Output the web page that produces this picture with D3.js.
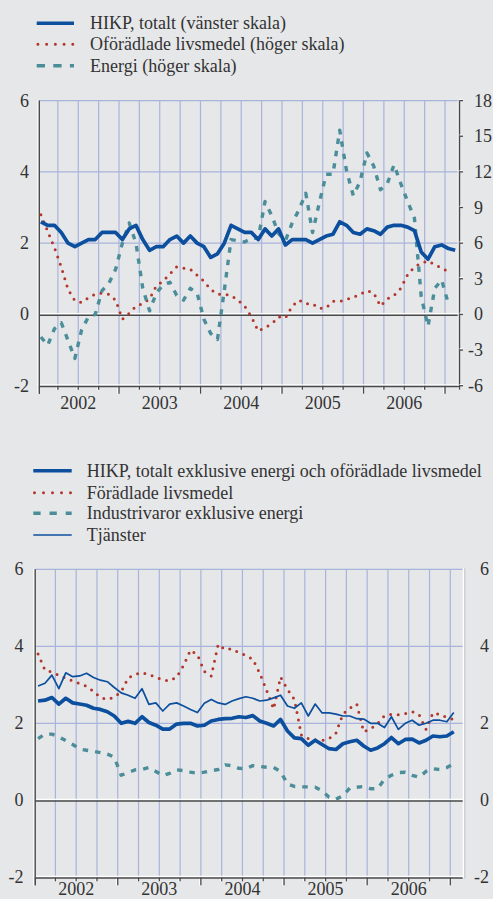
<!DOCTYPE html>
<html><head><meta charset="utf-8">
<script src="https://cdn.jsdelivr.net/npm/d3@7"></script>
<style>
html,body{margin:0;padding:0;background:#e6e7e9;}
svg{display:block;}
</style></head><body>
<svg id="c" width="493" height="899" font-family="'Liberation Serif', 'Times New Roman', Tinos, 'DejaVu Serif', serif" font-size="18" fill="#333"></svg>
<script>
// ---------- data (monthly, starting January 2002) ----------
const years = ["2002","2003","2004","2005","2006"];

// Top chart
const hikpTotal = [
  2.6,2.5,2.5,2.3,2.0,1.9,2.0,2.1,2.1,2.3,2.3,2.3,
  2.1,2.4,2.5,2.1,1.8,1.9,1.9,2.1,2.2,2.0,2.2,2.0,
  1.9,1.6,1.7,2.0,2.5,2.4,2.3,2.3,2.1,2.4,2.2,2.4,
  1.95,2.1,2.1,2.1,2.0,2.1,2.2,2.25,2.6,2.5,2.3,2.25,
  2.4,2.35,2.25,2.45,2.5,2.5,2.45,2.35,1.75,1.55,1.9,1.95,
  1.85,1.8];
const unprocessedFood = [
  8.4,7.0,5.6,4.0,2.1,1.15,1.0,1.4,1.7,1.8,1.7,1.2,
  -0.4,0.1,0.7,0.9,1.3,2.4,2.8,3.4,4.0,3.9,3.8,3.3,
  2.8,2.1,1.7,1.7,1.6,1.2,0.7,-0.2,-1.4,-1.1,-0.8,-0.2,
  -0.3,0.7,1.2,0.9,0.9,0.5,0.55,1.1,1.1,1.25,1.45,1.7,
  2.0,1.8,0.7,1.3,1.6,2.2,3.35,4.0,4.3,4.5,4.2,3.9,
  3.6];
const energy = [
  -1.9,-2.6,-1.2,-0.7,-2.2,-3.7,-1.3,-0.2,0.0,2.0,2.6,3.8,
  6.0,7.7,6.0,2.2,0.3,1.8,2.5,2.7,1.6,1.2,2.2,1.8,
  -0.4,-1.6,-2.1,2.0,6.3,6.2,6.1,6.4,6.4,9.5,8.3,6.8,
  6.2,7.7,8.8,10.2,6.9,9.4,11.8,11.8,15.5,12.1,10.0,11.2,
  13.6,12.5,10.5,11.0,12.6,11.0,9.5,8.1,1.5,-1.0,2.2,2.9,
  0.9];

// Bottom chart
const coreHikp = [
  2.58,2.6,2.67,2.5,2.65,2.53,2.5,2.47,2.39,2.36,2.3,2.19,
  2.0,2.05,2.0,2.17,2.02,1.95,1.85,1.85,1.98,2.0,2.0,1.93,
  1.95,2.06,2.1,2.12,2.13,2.17,2.15,2.2,2.06,2.0,1.93,2.1,
  1.8,1.62,1.6,1.43,1.56,1.45,1.34,1.32,1.47,1.52,1.56,1.41,
  1.3,1.36,1.47,1.63,1.47,1.58,1.59,1.49,1.56,1.67,1.65,1.67,
  1.78];
const processedFood = [
  3.8,3.38,3.33,3.25,3.17,3.1,3.03,2.96,2.83,2.67,2.62,2.68,
  2.82,3.18,3.27,3.32,3.26,3.2,3.13,3.1,3.2,3.5,3.9,3.78,
  3.35,3.23,4.05,3.92,3.93,3.83,3.77,3.66,3.3,2.85,2.37,3.2,
  2.88,2.62,1.7,1.6,1.57,1.55,1.6,1.75,2.24,2.39,2.5,1.78,
  1.86,1.99,2.2,2.23,2.22,2.25,2.3,2.22,1.84,2.27,2.23,2.15,
  2.1];
const industrialGoods = [
  1.6,1.72,1.72,1.65,1.55,1.45,1.33,1.3,1.27,1.24,1.2,1.12,
  0.65,0.72,0.79,0.8,0.85,0.75,0.64,0.7,0.79,0.77,0.73,0.7,
  0.73,0.77,0.8,0.92,0.9,0.83,0.82,0.9,0.88,0.86,0.85,0.75,
  0.42,0.36,0.35,0.35,0.34,0.25,0.08,0.03,0.12,0.32,0.34,0.36,
  0.3,0.3,0.55,0.65,0.72,0.73,0.65,0.6,0.75,0.82,0.8,0.85,
  0.95];
const services = [
  2.97,3.04,3.25,2.9,3.31,3.21,3.23,3.3,3.19,3.12,3.08,2.93,
  2.79,2.73,2.65,2.9,2.49,2.53,2.32,2.5,2.53,2.45,2.36,2.28,
  2.52,2.62,2.53,2.49,2.58,2.64,2.69,2.65,2.58,2.6,2.66,2.73,
  2.45,2.39,2.53,2.19,2.5,2.27,2.27,2.24,2.19,2.19,2.12,2.11,
  2.0,2.0,1.89,2.17,1.84,2.0,2.08,1.95,2.0,2.08,2.08,2.04,
  2.28];

const leftTicks = [-2,0,2,4,6];
const rightTicksTop = [-6,-3,0,3,6,9,12,15,18];
const rightTicksBottom = [-2,0,2,4,6];
const legendTop = ["HIKP, totalt (vänster skala)","Oförädlade livsmedel (höger skala)","Energi (höger skala)"];
const legendBottom = ["HIKP, totalt exklusive energi och oförädlade livsmedel","Förädlade livsmedel","Industrivaror exklusive energi","Tjänster"];

// ---------- styles ----------
const C = {blue:"#0c4f9e", red:"#b3362c", teal:"#4b8e9a", grid:"#a9b4dc", dark:"#4a4a4a", white:"#ffffff", text:"#333333"};
const FONT = "'Liberation Serif', 'Times New Roman', Tinos, 'DejaVu Serif', serif";
const styles = {
  thick:{stroke:C.blue, width:3.7, dash:null, cap:"butt"},
  thin:{stroke:C.blue, width:1.7, dash:null, cap:"butt"},
  dots:{stroke:C.red, width:3.0, dash:"0,7.6", cap:"round"},
  dash:{stroke:C.teal, width:3.4, dash:"5.5,7", cap:"butt"}
};

const svg = d3.select("#c");

function txt(g){
  return g.append("text").attr("font-family",FONT).attr("font-size",18).attr("fill",C.text);
}

function panel(cfg){
  const g = svg.append("g");
  const x = d3.scaleLinear().domain([0,60]).range([cfg.x0, cfg.x60]);
  const y = d3.scaleLinear().domain([-2,6]).range([cfg.bottom, cfg.top]);
  const L = cfg.left, R = cfg.right, T = cfg.top, B = cfg.bottom;
  const quarters = d3.range(3,61,3);

  g.selectAll(".vg").data(quarters).join("line")
    .attr("x1",d=>x(d)).attr("x2",d=>x(d)).attr("y1",T).attr("y2",B)
    .attr("stroke",C.grid).attr("stroke-width",1.2);
  g.selectAll(".hg").data([2,4,6]).join("line")
    .attr("x1",L).attr("x2",R).attr("y1",d=>y(d)).attr("y2",d=>y(d))
    .attr("stroke",C.grid).attr("stroke-width",1.3);

  g.append("line").attr("x1",L).attr("x2",R).attr("y1",y(0)-0.8).attr("y2",y(0)-0.8)
    .attr("stroke",C.white).attr("stroke-width",1.5);
  g.append("line").attr("x1",L).attr("x2",R).attr("y1",y(0)+0.8).attr("y2",y(0)+0.8)
    .attr("stroke",C.dark).attr("stroke-width",1.5);

  const tickData = [{x:L,len:8}].concat(quarters.map(m=>({x:x(m),len:(m%12===0)?8:4})));
  if(cfg.rightDark) tickData.push({x:R,len:4});
  g.selectAll(".tkw").data(tickData).join("line")
    .attr("x1",d=>d.x-1.2).attr("x2",d=>d.x-1.2).attr("y1",B-0.8).attr("y2",d=>B+d.len)
    .attr("stroke",C.white).attr("stroke-width",1.2);
  g.selectAll(".tkd").data(tickData).join("line")
    .attr("x1",d=>d.x).attr("x2",d=>d.x).attr("y1",B).attr("y2",d=>B+d.len)
    .attr("stroke",C.dark).attr("stroke-width",1.3);
  g.append("line").attr("x1",L-1.5).attr("x2",R).attr("y1",B-0.8).attr("y2",B-0.8)
    .attr("stroke",C.white).attr("stroke-width",1.4);
  g.append("line").attr("x1",L-0.6).attr("x2",R+0.6).attr("y1",B+0.7).attr("y2",B+0.7)
    .attr("stroke",C.dark).attr("stroke-width",1.5);

  g.append("line").attr("x1",L-1.3).attr("x2",L-1.3).attr("y1",T).attr("y2",B+8)
    .attr("stroke",C.white).attr("stroke-width",1.3);
  g.append("line").attr("x1",L).attr("x2",L).attr("y1",T).attr("y2",B+8)
    .attr("stroke",C.dark).attr("stroke-width",1.4);

  if(cfg.rightDark){
    g.append("line").attr("x1",R-1.2).attr("x2",R-1.2).attr("y1",T).attr("y2",B)
      .attr("stroke",C.white).attr("stroke-width",1.2);
    g.append("line").attr("x1",R).attr("x2",R).attr("y1",T).attr("y2",B+0.5)
      .attr("stroke",C.dark).attr("stroke-width",1.4);
  } else {
    g.append("line").attr("x1",R+0.5).attr("x2",R+0.5).attr("y1",T-1).attr("y2",B+1.4)
      .attr("stroke",C.white).attr("stroke-width",1.6);
    g.append("line").attr("x1",R+1.8).attr("x2",R+1.8).attr("y1",T-1).attr("y2",B+1.4)
      .attr("stroke","#b8b9bc").attr("stroke-width",0.8);
  }

  leftTicks.forEach(d=>{
    txt(g).attr("x",cfg.leftLabelX).attr("y",y(d)+6).attr("text-anchor","end").text(d);
  });

  const yr = d3.scaleLinear().domain(cfg.rightDomain).range([B,T]);
  if(cfg.rightDark){
    g.selectAll(".rtw").data(cfg.rightTicks).join("line")
      .attr("x1",R).attr("x2",R+3.5).attr("y1",d=>yr(d)-1.2).attr("y2",d=>yr(d)-1.2)
      .attr("stroke",C.white).attr("stroke-width",1.1);
    g.selectAll(".rtd").data(cfg.rightTicks).join("line")
      .attr("x1",R).attr("x2",R+3.5).attr("y1",d=>yr(d)).attr("y2",d=>yr(d))
      .attr("stroke",C.dark).attr("stroke-width",1.3);
  }
  cfg.rightTicks.forEach(d=>{
    txt(g).attr("x",d<0?cfg.rightLabelX-6:cfg.rightLabelX).attr("y",yr(d)+6)
      .attr("text-anchor","start").text(d);
  });

  years.forEach((d,i)=>{
    txt(g).attr("x",x(6+12*i)).attr("y",cfg.yearY).attr("text-anchor","middle").text(d);
  });

  cfg.series.forEach(s=>{
    const ys = d3.scaleLinear().domain(s.right?cfg.rightDomain:[-2,6]).range([B,T]);
    const line = d3.line().x((d,i)=>x(i+0.5)).y(d=>ys(d));
    const st = styles[s.style];
    const p = g.append("path").datum(s.data).attr("d",line)
      .attr("fill","none").attr("stroke",st.stroke).attr("stroke-width",st.width)
      .attr("stroke-linecap",st.cap).attr("stroke-linejoin","round");
    if(st.dash) p.attr("stroke-dasharray",st.dash);
  });
}

function legend(items, cfg){
  const g = svg.append("g");
  items.forEach((it,i)=>{
    const yy = cfg.ys[i];
    const st = styles[it.style];
    const l = g.append("line").attr("x1",cfg.x1).attr("x2",cfg.x2).attr("y1",yy).attr("y2",yy)
      .attr("stroke",st.stroke).attr("stroke-width",it.style==="thick"?3.6:(it.style==="thin"?1.6:st.width))
      .attr("stroke-linecap",st.cap);
    if(it.style==="dots") l.attr("x1",cfg.x1+1.2).attr("stroke-dasharray","0,"+((cfg.x2-cfg.x1-2.4)/4));
    if(it.style==="dash") l.attr("stroke-dasharray",cfg.dashPat);
    txt(g).attr("x",cfg.tx).attr("y",yy+5.8).text(it.label);
  });
}

panel({x0:37.5, x60:445, left:39.3, right:459.5, top:100.6, bottom:385.7,
  rightDomain:[-6,18], rightTicks:rightTicksTop, rightDark:true,
  leftLabelX:29, rightLabelX:474, yearY:409,
  series:[
    {data:unprocessedFood, style:"dots", right:true},
    {data:energy, style:"dash", right:true},
    {data:hikpTotal, style:"thick", right:false}
  ]});
legend([
  {label:legendTop[0], style:"thick"},
  {label:legendTop[1], style:"dots"},
  {label:legendTop[2], style:"dash"}
], {x1:36.7, x2:74, tx:90, ys:[23.3,44.3,65.7], dashPat:"8.3,8.3"});

panel({x0:34.6, x60:450.3, left:35.2, right:463, top:569.3, bottom:877.3,
  rightDomain:[-2,6], rightTicks:rightTicksBottom, rightDark:false,
  leftLabelX:23.5, rightLabelX:480, yearY:895,
  series:[
    {data:industrialGoods, style:"dash", right:false},
    {data:processedFood, style:"dots", right:false},
    {data:services, style:"thin", right:false},
    {data:coreHikp, style:"thick", right:false}
  ]});
legend([
  {label:legendBottom[0], style:"thick"},
  {label:legendBottom[1], style:"dots"},
  {label:legendBottom[2], style:"dash"},
  {label:legendBottom[3], style:"thin"}
], {x1:33.3, x2:71.7, tx:86.7, ys:[470.7,492.7,513.3,535], dashPat:"7.3,8.9"});
</script>
</body></html>
